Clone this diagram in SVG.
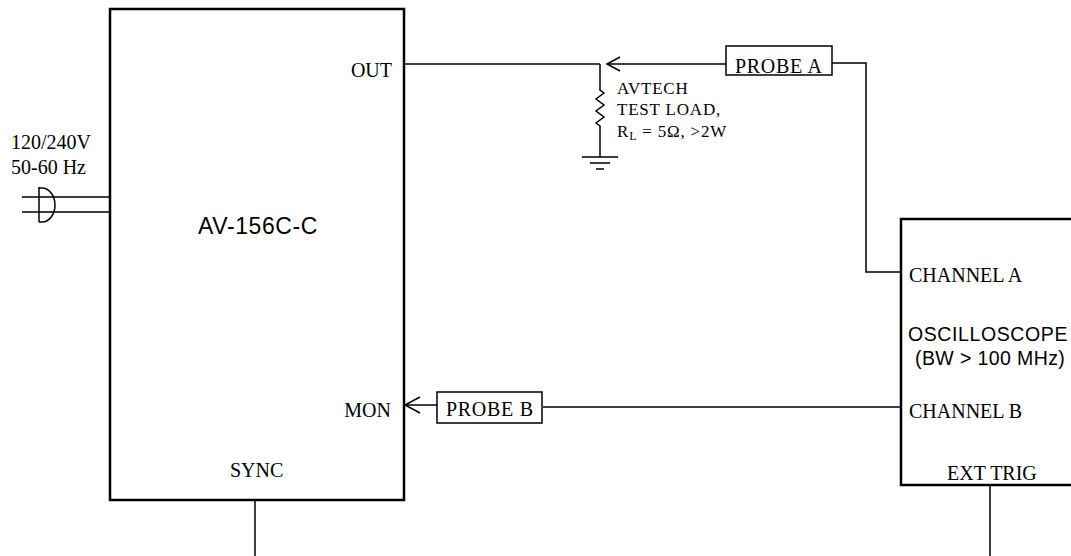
<svg xmlns="http://www.w3.org/2000/svg" width="1071" height="556" viewBox="0 0 1071 556">
<style>
.box{fill:#fff;stroke:#000;stroke-width:2.5}
.pbox{fill:#fff;stroke:#000;stroke-width:1.5}
.w{fill:none;stroke:#000;stroke-width:1.5}
.s{font-family:"Liberation Serif",serif;font-size:20px;fill:#000}
.ss{font-family:"Liberation Serif",serif;font-size:17px;fill:#000;letter-spacing:0.8px}
.a{font-family:"Liberation Sans",Arial,sans-serif;fill:#000}
</style>
<rect width="1071" height="556" fill="#fff"/>
<g id="connectors">
<path class="w" d="M404,64 H600"/>
<path class="w" d="M607,64 H726"/>
<path class="w" d="M620,57 L607,64 L620,71"/>
<path class="w" d="M832,63 H866 V272 H901"/>
<path class="w" d="M543,407 H901"/>
<path class="w" d="M404,405 H437"/>
<path class="w" d="M420,397 L405,405 L420,413"/>
<path class="w" d="M255,500 V556"/>
<path class="w" d="M990,485 V556"/>
<path class="w" d="M22,197 H110 M22,212 H110"/>
</g>
<g id="power">
<path class="w" d="M39,187 V222 M39,188 H42 A13,17 0 0 1 42,222 H39"/>
<text class="s" x="11" y="149" font-size="19.5">120/240V</text>
<text class="s" x="11" y="174" font-size="19.5">50-60 Hz</text>
</g>
<g id="av156">
<rect class="box" x="110" y="9" width="294" height="491"/>
<text class="a" x="198" y="234" font-size="23" letter-spacing="0.6">AV-156C-C</text>
<text class="s" x="392" y="77" text-anchor="end">OUT</text>
<text class="s" x="391" y="417" text-anchor="end">MON</text>
<text class="s" x="230" y="477">SYNC</text>
</g>
<g id="testload">
<path class="w" d="M600,64 V90 L604,93 L596,99 L604,105 L596,111 L604,117 L596,123 L600,126 V157"/>
<path class="w" d="M582,157 H618 M590,163 H610 M596,169 H604"/>
<text class="ss" x="617" y="94">AVTECH</text>
<text class="ss" x="617" y="115">TEST LOAD,</text>
<text class="ss" x="617" y="137">R<tspan font-size="12" dy="3">L</tspan><tspan dy="-3"> = 5Ω, &gt;2W</tspan></text>
</g>
<g id="probeA">
<rect class="pbox" x="726" y="46" width="106" height="29"/>
<text class="s" x="735" y="73" letter-spacing="0.7">PROBE A</text>
</g>
<g id="probeB">
<rect class="pbox" x="437" y="392" width="105" height="31"/>
<text class="s" x="446" y="416" letter-spacing="0.7">PROBE B</text>
</g>
<g id="oscilloscope">
<rect class="box" x="901" y="219" width="180" height="266"/>
<text class="s" x="909" y="282">CHANNEL A</text>
<text class="a" x="908" y="341" font-size="19.5" letter-spacing="0.6">OSCILLOSCOPE</text>
<text class="a" x="915" y="365" font-size="19.5" letter-spacing="0.4">(BW &gt; 100 MHz)</text>
<text class="s" x="909" y="418">CHANNEL B</text>
<text class="s" x="947" y="480">EXT TRIG</text>
</g>
</svg>
